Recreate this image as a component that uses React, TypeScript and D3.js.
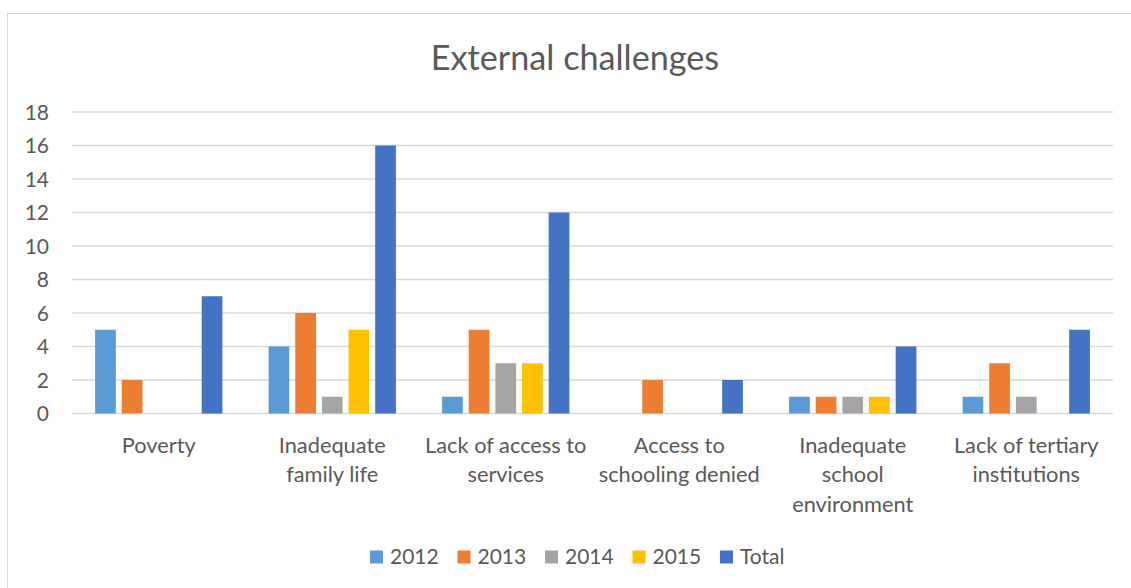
import React from "react";
import * as d3 from "d3";

const categories = [
  "Poverty",
  "Inadequate\nfamily life",
  "Lack of access to\nservices",
  "Access to\nschooling denied",
  "Inadequate\nschool\nenvironment",
  "Lack of tertiary\ninstitutions",
];
const seriesNames = ["2012", "2013", "2014", "2015", "Total"];
const values2012 = [5, 4, 1, 0, 1, 1];
const values2013 = [2, 6, 5, 2, 1, 3];
const values2014 = [0, 1, 3, 0, 1, 1];
const values2015 = [0, 5, 3, 0, 1, 0];
const valuesTotal = [7, 16, 12, 2, 4, 5];
const yTicks = [0, 2, 4, 6, 8, 10, 12, 14, 16, 18];
const seriesColors = ["#5B9BD5", "#ED7D31", "#A5A5A5", "#FFC000", "#4472C4"];
const title = "External challenges";

const seriesValues = [values2012, values2013, values2014, values2015, valuesTotal];

const W = 1131;
const H = 588;
const FONT = "Lato, 'Open Sans', sans-serif";
const TEXT = "#595959";
const GRID = "#D9D9D9";

export default function App() {
  const x0 = d3.scaleBand<string>().domain(categories).range([72, 1113]).paddingInner(0).paddingOuter(0);
  const x1 = d3
    .scaleBand<string>()
    .domain(seriesNames)
    .range([0, x0.bandwidth()])
    .paddingInner(0.223)
    .paddingOuter(0.867);
  const y = d3.scaleLinear().domain([0, 18]).range([413.5, 112]);

  const legendX = (i: number) => 370 + i * 87.5;

  return (
    <svg
      width={W}
      height={H}
      style={{ position: "absolute", left: 0, top: 0, background: "#fff" }}
      fontFamily={FONT}
    >
      <rect x={7.5} y={13.5} width={1160} height={600} fill="#fff" stroke={GRID} strokeWidth={1} />
      <text x={575} y={69.5} textAnchor="middle" fontSize={34.2} fill={TEXT}>
        {title}
      </text>
      {yTicks.map((t) => (
        <g key={t}>
          <line x1={72} x2={1113} y1={y(t)} y2={y(t)} stroke={GRID} strokeWidth={1.3} />
          <text x={49} y={y(t)} dy="0.36em" textAnchor="end" fontSize={21} fill={TEXT}>
            {t}
          </text>
        </g>
      ))}
      {categories.map((c, ci) => (
        <g key={c} transform={`translate(${x0(c)},0)`}>
          {seriesNames.map((s, si) => {
            const v = seriesValues[si][ci];
            if (!v) return null;
            return (
              <rect
                key={s}
                x={x1(s)}
                y={y(v)}
                width={x1.bandwidth()}
                height={y(0) - y(v)}
                fill={seriesColors[si]}
              />
            );
          })}
        </g>
      ))}
      {categories.map((c) => (
        <text
          key={"l" + c}
          x={(x0(c) as number) + x0.bandwidth() / 2}
          y={452.5}
          textAnchor="middle"
          fontSize={21.8}
          fill={TEXT}
        >
          {c.split("\n").map((line, li) => (
            <tspan key={li} x={(x0(c) as number) + x0.bandwidth() / 2} dy={li === 0 ? 0 : 29.5}>
              {line}
            </tspan>
          ))}
        </text>
      ))}
      {seriesNames.map((s, i) => (
        <g key={"lg" + s} transform={`translate(${legendX(i)},0)`}>
          <rect x={0} y={550.5} width={13} height={13} fill={seriesColors[i]} />
          <text x={20} y={564} fontSize={21} fill={TEXT}>
            {s}
          </text>
        </g>
      ))}
    </svg>
  );
}
